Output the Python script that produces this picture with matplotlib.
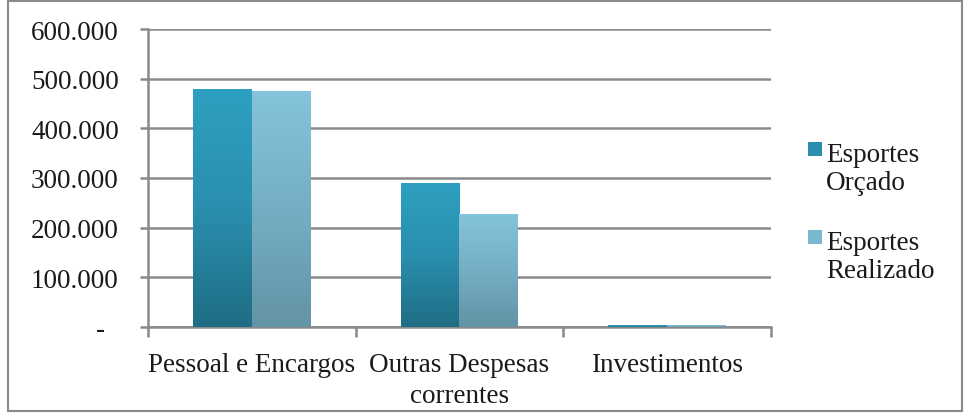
import matplotlib
matplotlib.use("Agg")
import matplotlib.pyplot as plt
import numpy as np
from matplotlib.colors import LinearSegmentedColormap
from matplotlib.patches import Rectangle

categories = ["Pessoal e Encargos", "Outras Despesas\ncorrentes", "Investimentos"]
series_names = ["Esportes\nOrçado", "Esportes\nRealizado"]
orcado = [479000, 290000, 4000]
realizado = [475000, 228000, 3500]
yticks = [0, 100000, 200000, 300000, 400000, 500000, 600000]
ytick_labels = ["-  ", "100.000", "200.000", "300.000", "400.000", "500.000", "600.000"]

plt.rcParams['font.family'] = ['Liberation Serif', 'DejaVu Serif']

W, H = 968, 414
FS = 19.5
TXT = "#1a1a1a"
fig = plt.figure(figsize=(W / 100, H / 100), dpi=100)
ax = fig.add_axes([148 / W, 1 - 328 / H, (771 - 148) / W, (328 - 30) / H])

grid_c = "#8a8a8a"
ax.set_ylim(0, 600000)
ax.set_xlim(-0.5, len(categories) - 0.5)
ax.set_yticks(yticks)
ax.set_yticklabels(ytick_labels, fontsize=FS, color=TXT)
ax.yaxis.grid(True, color=grid_c, linewidth=1.8)
ax.set_axisbelow(True)
for s in ["top", "right"]:
    ax.spines[s].set_visible(False)
for s in ["left", "bottom"]:
    ax.spines[s].set_color(grid_c)
    ax.spines[s].set_linewidth(1.8)
ax.tick_params(axis="y", length=6, width=1.8, color=grid_c, pad=15)

# x ticks at boundaries, labels at centers (one text per line)
ax.set_xticks([-0.5, 0.5, 1.5, 2.5])
ax.set_xticklabels([])
ax.tick_params(axis="x", length=7, width=1.8, color=grid_c)
x = np.arange(len(categories))
base0 = 372
pitch = 31
for xi, lab in zip(x, categories):
    for k, line in enumerate(lab.split("\n")):
        ybase = base0 + k * pitch
        ax.text(xi, (328 - ybase) / 298, line, transform=ax.get_xaxis_transform(),
                ha="center", va="baseline", fontsize=FS, color=TXT)

bw = 0.284
grads = [
    LinearSegmentedColormap.from_list("o", ["#1f6d84", "#2a8fae", "#2ea0c1"]),
    LinearSegmentedColormap.from_list("r", ["#6393a6", "#75aec4", "#85c4dc"]),
]
legend_colors = ["#2a8fae", "#7ab8cf"]
grad_img = np.linspace(0, 1, 256).reshape(-1, 1)
for i, (vals, cm) in enumerate(zip([orcado, realizado], grads)):
    offs = (i - 0.5) * bw
    bars = ax.bar(x + offs, vals, width=bw, color="none", edgecolor="none", zorder=3)
    for b in bars:
        x0, y0 = b.get_x(), b.get_y()
        w, h = b.get_width(), b.get_height()
        im = ax.imshow(grad_img, cmap=cm, origin="lower", aspect="auto",
                       extent=[x0, x0 + w, y0, y0 + max(h, 1)], zorder=3,
                       interpolation="bilinear")
        im.set_clip_path(b)

ax.set_xlim(-0.5, len(categories) - 0.5)
ax.set_ylim(0, 600000)

# legend drawn manually (square aligned with first line)
leg_first_baseline = [162, 250]
leg_pitch = 28.5
for name, col, yb in zip(series_names, legend_colors, leg_first_baseline):
    sq_top = yb - 19
    fig.add_artist(Rectangle((808 / W, 1 - (sq_top + 14) / H), 14 / W, 14 / H,
                             transform=fig.transFigure, facecolor=col, edgecolor="none"))
    for k, line in enumerate(name.split("\n")):
        fig.text(826 / W, 1 - (yb + k * leg_pitch) / H, line, ha="left", va="baseline",
                 fontsize=FS, color=TXT)

# figure border
fig.add_artist(Rectangle((8 / W, 2 / H), 1 - 14 / W, 1 - 4 / H, transform=fig.transFigure,
                         fill=False, edgecolor="#8a8a8a", linewidth=1.5))

fig.savefig("out.png", dpi=100)
